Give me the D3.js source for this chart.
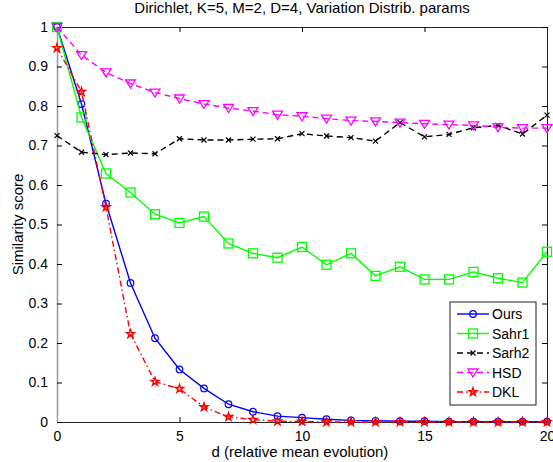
<!DOCTYPE html>
<html>
<head>
<meta charset="utf-8">
<script src="https://cdn.jsdelivr.net/npm/d3@7"></script>
<style>
  body { margin: 0; background: #fff; }
  text { font-family: "Liberation Sans", Arial, sans-serif; }
</style>
</head>
<body>
<svg id="chart" width="553" height="462"></svg>
<script>
const dValues = d3.range(0, 21);
const ours  = [1.0, 0.805, 0.553, 0.352, 0.212, 0.133, 0.085, 0.045, 0.026, 0.015, 0.011, 0.007, 0.004, 0.003, 0.002, 0.002, 0.001, 0.001, 0.001, 0.001, 0.001];
const sahr1 = [1.0, 0.771, 0.629, 0.581, 0.526, 0.504, 0.520, 0.452, 0.427, 0.416, 0.443, 0.398, 0.427, 0.370, 0.393, 0.361, 0.361, 0.380, 0.364, 0.353, 0.431];
const sarh2 = [0.725, 0.683, 0.677, 0.681, 0.679, 0.717, 0.714, 0.714, 0.716, 0.717, 0.730, 0.724, 0.720, 0.711, 0.758, 0.722, 0.728, 0.745, 0.751, 0.729, 0.777];
const hsd   = [1.0, 0.929, 0.885, 0.857, 0.834, 0.819, 0.805, 0.795, 0.787, 0.778, 0.774, 0.768, 0.763, 0.761, 0.758, 0.755, 0.753, 0.751, 0.746, 0.744, 0.744];
const dkl   = [0.947, 0.836, 0.544, 0.223, 0.102, 0.084, 0.038, 0.013, 0.006, 0.002, 0.001, 0.0, 0.0, 0.0, 0.0, 0.0, 0.0, 0.0, 0.0, 0.0, 0.0];
const xTicks = [0, 5, 10, 15, 20];
const yTicks = [0, 0.1, 0.2, 0.3, 0.4, 0.5, 0.6, 0.7, 0.8, 0.9, 1];

const series = [
  { name: 'Ours',  values: ours,  color: '#0000ff', dash: null,        marker: 'circle' },
  { name: 'Sahr1', values: sahr1, color: '#00ff00', dash: null,        marker: 'square' },
  { name: 'Sarh2', values: sarh2, color: '#000000', dash: '6,4',       marker: 'cross' },
  { name: 'HSD',   values: hsd,   color: '#ff00ff', dash: '6,4',       marker: 'tri' },
  { name: 'DKL',   values: dkl,   color: '#ff0000', dash: '6,3,1.5,3', marker: 'star' }
];

const plot = { left: 57, right: 547, top: 27, bottom: 422 };
const svg = d3.select('#chart');

const x = d3.scaleLinear().domain([0, 20]).range([plot.left, plot.right]);
const y = d3.scaleLinear().domain([0, 1]).range([plot.bottom, plot.top]);

// box + inward ticks (matlab style)
svg.append('g').attr('transform', `translate(0,${plot.bottom})`)
  .call(d3.axisBottom(x).tickValues(xTicks).tickSizeInner(-5).tickSizeOuter(0).tickPadding(9).tickFormat(d3.format('d')))
  .call(g => g.select('.domain').attr('stroke', '#222'))
  .call(g => g.selectAll('text').attr('font-size', 14).attr('fill', '#000'));
svg.append('g').attr('transform', `translate(0,${plot.top})`)
  .call(d3.axisTop(x).tickValues(xTicks).tickSizeInner(-5).tickSizeOuter(0).tickFormat(''))
  .call(g => g.select('.domain').attr('stroke', '#222'));
svg.append('g').attr('transform', `translate(${plot.left},0)`)
  .call(d3.axisLeft(y).tickValues(yTicks).tickSizeInner(-5).tickSizeOuter(0).tickPadding(9).tickFormat(d => d3.format('~g')(d)))
  .call(g => g.select('.domain').attr('stroke', '#999').attr('stroke-width', 1.5))
  .call(g => g.selectAll('text').attr('font-size', 14).attr('fill', '#000'));
svg.append('g').attr('transform', `translate(${plot.right},0)`)
  .call(d3.axisRight(y).tickValues(yTicks).tickSizeInner(-5).tickSizeOuter(0).tickFormat(''))
  .call(g => g.select('.domain').attr('stroke', '#222'));

svg.append('text').attr('x', 302).attr('y', 13).attr('text-anchor', 'middle')
  .attr('font-size', 15).text('Dirichlet, K=5, M=2, D=4, Variation Distrib. params');
svg.append('text').attr('x', 300).attr('y', 457).attr('text-anchor', 'middle')
  .attr('font-size', 15).text('d (relative mean evolution)');
svg.append('text').attr('transform', `translate(23,${(plot.top + plot.bottom) / 2}) rotate(-90)`)
  .attr('text-anchor', 'middle').attr('font-size', 15).text('Similarity score');

function drawMarker(g, type, color, cx, cy) {
  if (type === 'circle') {
    g.append('circle').attr('cx', cx).attr('cy', cy).attr('r', 3.3)
      .attr('fill', 'none').attr('stroke', color).attr('stroke-width', 1.2);
  } else if (type === 'square') {
    g.append('rect').attr('x', cx - 4.5).attr('y', cy - 4.5).attr('width', 9).attr('height', 9)
      .attr('fill', 'none').attr('stroke', color).attr('stroke-width', 1.3);
  } else if (type === 'cross') {
    g.append('path').attr('d', `M${cx - 2.5},${cy - 2.5}L${cx + 2.5},${cy + 2.5}M${cx - 2.5},${cy + 2.5}L${cx + 2.5},${cy - 2.5}`)
      .attr('stroke', color).attr('stroke-width', 1.2);
  } else if (type === 'tri') {
    g.append('path').attr('d', `M${cx - 5},${cy - 3.5}L${cx + 5},${cy - 3.5}L${cx},${cy + 4.5}Z`)
      .attr('fill', 'none').attr('stroke', color).attr('stroke-width', 1.3);
  } else if (type === 'star') {
    g.append('path').attr('d', d3.symbol(d3.symbolStar, 20)())
      .attr('transform', `translate(${cx},${cy})`)
      .attr('fill', 'none').attr('stroke', color).attr('stroke-width', 1.4);
  }
}

const line = d3.line().x((d, i) => x(dValues[i])).y(d => y(d));

series.forEach(s => {
  const g = svg.append('g');
  g.append('path').datum(s.values).attr('d', line)
    .attr('fill', 'none').attr('stroke', s.color).attr('stroke-width', 1.4)
    .attr('stroke-dasharray', s.dash);
  s.values.forEach((v, i) => drawMarker(g, s.marker, s.color, x(dValues[i]), y(v)));
});

// legend
const lg = svg.append('g');
lg.append('rect').attr('x', 450).attr('y', 302).attr('width', 86).attr('height', 103)
  .attr('fill', '#fff').attr('stroke', '#222').attr('stroke-width', 1);
series.forEach((s, i) => {
  const ly = 314 + i * 19.5;
  lg.append('line').attr('x1', 457).attr('x2', 489).attr('y1', ly).attr('y2', ly)
    .attr('stroke', s.color).attr('stroke-width', 1.4).attr('stroke-dasharray', s.dash);
  drawMarker(lg, s.marker, s.color, 473, ly);
  lg.append('text').attr('x', 492).attr('y', ly + 5).attr('font-size', 14).text(s.name);
});
</script>
</body>
</html>
